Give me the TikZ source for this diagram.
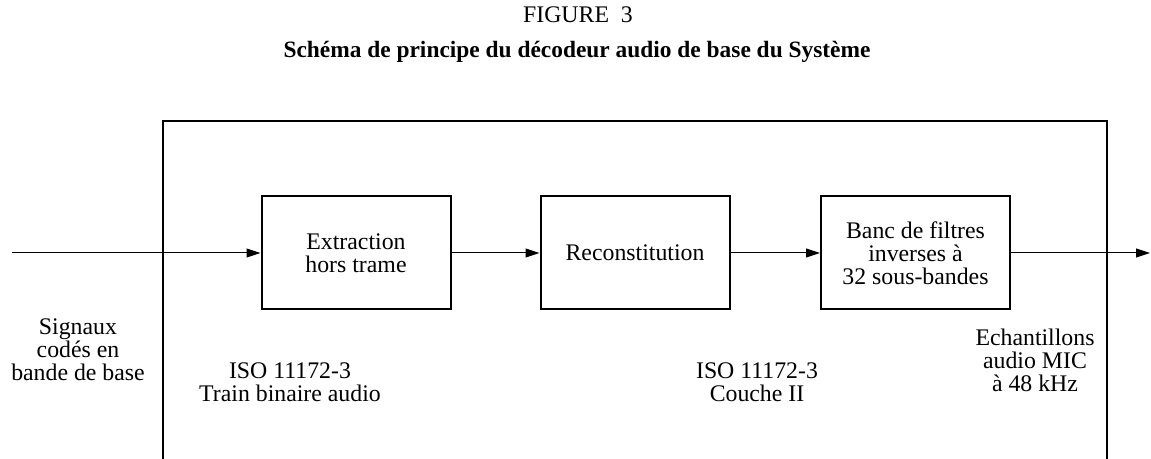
\documentclass[tikz,border=0pt]{standalone}
\usepackage{fontspec}
\setmainfont{Liberation Serif}
\usetikzlibrary{arrows.meta}
\tikzset{
  bloc/.style={draw, line width=1pt, minimum width=94.5pt, minimum height=56.5pt, inner sep=0pt, align=center},
  fleche/.style={line width=0.5pt, -{Triangle[length=7pt,width=4.5pt]}},
  legende/.style={align=center, inner sep=0pt},
}
\begin{document}
\begin{tikzpicture}[x=0.5pt, y=-0.5pt, font=\fontsize{11.9}{11.5}\selectfont]
			\useasboundingbox (0,0) rectangle (1151,459);
			
			%%%%% TITRE %%%%%
			\node[legende] (fig) at (578,15) {FIGURE\ \ 3};
			\node[legende, font=\fontsize{11.7}{11.5}\selectfont\bfseries] (titre) at (577,52) {Schéma de principe du décodeur audio de base du Système};
			
			%%%%% CADRE %%%%%
			\draw[line width=1pt] (163,459) -- (163,121) -- (1107,121) -- (1107,459);
			
			%%%%% BLOCS %%%%%
			\node[bloc] (extr) at (356,253) {Extraction\\hors trame};
			\node[bloc] (recon) at (635,253) {Reconstitution};
			\node[bloc] (banc) at (915.5,253) {Banc de filtres\\inverses à\\32 sous-bandes};
			
			\coordinate (entree) at (12,253);
			\coordinate (sortie) at (1150,253);
			
			\draw[fleche] (entree) -- (extr);
			\draw[fleche] (extr) -- (recon);
			\draw[fleche] (recon) -- (banc);
			\draw[fleche] (banc) -- (sortie);
			
			%%%%% LEGENDES %%%%%
			\node[legende] (signaux) at (78,350) {Signaux\\codés en\\bande de base};
			\node[legende] (train) at (290,382) {ISO 11172-3\\Train binaire audio};
			\node[legende] (couche) at (757,382) {ISO 11172-3\\Couche II};
			\node[legende] (echant) at (1035,360) {Echantillons\\audio MIC\\à 48 kHz};
\end{tikzpicture}
\end{document}
